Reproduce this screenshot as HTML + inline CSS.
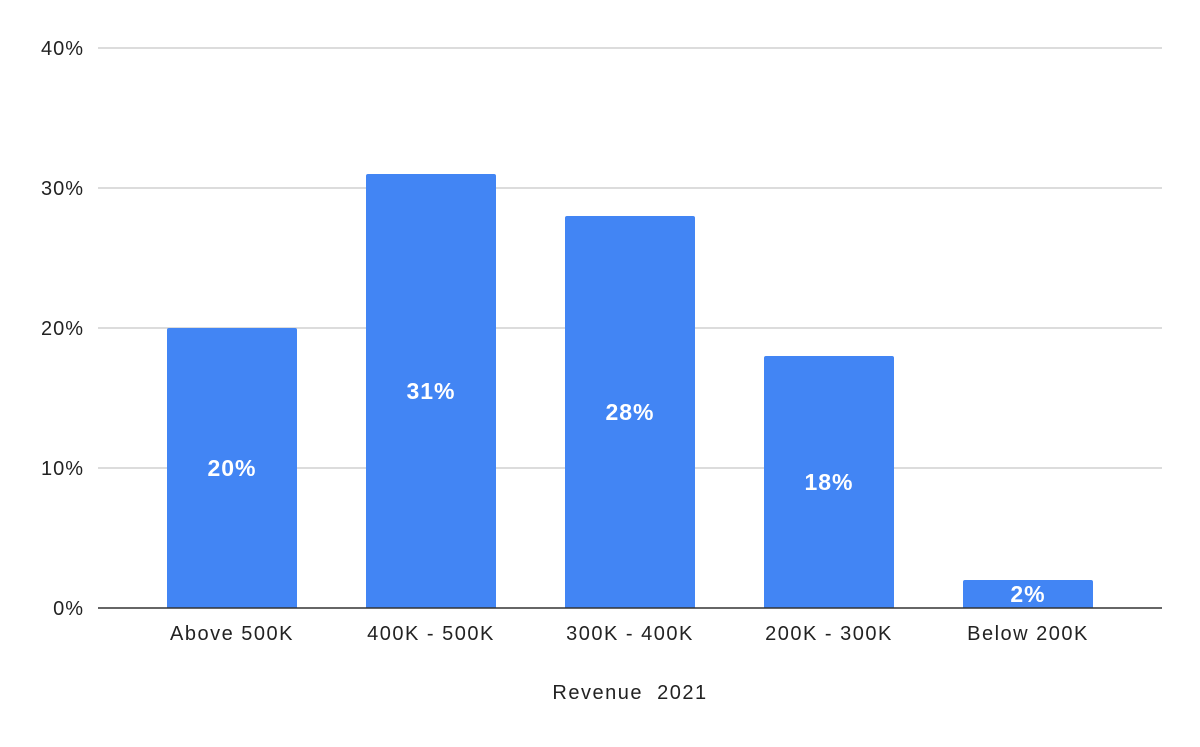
<!DOCTYPE html>
<html><head><meta charset="utf-8"><style>
body{margin:0;background:#fff;width:1200px;height:742px;overflow:hidden}
svg text{font-family:"Liberation Sans",Arial,sans-serif}
</style></head><body>
<svg id="chart" width="1200" height="742" xmlns="http://www.w3.org/2000/svg"></svg>
<script>
const categories = ["Above 500K","400K - 500K","300K - 400K","200K - 300K","Below 200K"];
const values = [20,31,28,18,2];
const yTicks = [0,10,20,30,40];
const yTickLabels = ["0%","10%","20%","30%","40%"];
const axisTitle = "Revenue\u00a0 2021";

const svg = document.getElementById('chart');
const NS = "http://www.w3.org/2000/svg";
const x0 = 98, x1 = 1162, yBase = 608, yTop = 48, yMax = 40;
const y = v => yBase - (v / yMax) * (yBase - yTop);
const xc = i => 232 + i * 199;
const barW = 130;
function mk(tag, attrs){const e=document.createElementNS(NS,tag);for(const k in attrs)e.setAttribute(k,attrs[k]);svg.appendChild(e);return e;}

yTicks.forEach((t,i)=>{
  if(t!==0){
    const g = mk('line',{x1:x0,x2:x1,y1:y(t),y2:y(t),stroke:'#c8c8c8','stroke-width':1.2});
    
    
  }
  const tl = mk('text',{x:84,y:y(t)+7,'text-anchor':'end','font-size':20,'letter-spacing':1,fill:'#222'});
  tl.textContent = yTickLabels[i];
  
  
});

values.forEach((v,i)=>{
  const top = y(v);
  const b = mk('path',{d:`M${xc(i)-barW/2},${yBase}V${top+2}Q${xc(i)-barW/2},${top} ${xc(i)-barW/2+2},${top}H${xc(i)+barW/2-2}Q${xc(i)+barW/2},${top} ${xc(i)+barW/2},${top+2}V${yBase}Z`,fill:'#4285f4'});
  
  
  const lbl = mk('text',{x:xc(i),y:(top+yBase)/2+8,'text-anchor':'middle','font-size':23,'font-weight':'bold','letter-spacing':1,fill:'#fff'});
  lbl.textContent = v + '%';
  
  
  const xl = mk('text',{x:xc(i),y:640,'text-anchor':'middle','font-size':20,'letter-spacing':1.5,fill:'#222'});
  xl.textContent = categories[i];
  
  
});

const ax = mk('line',{x1:x0,x2:x1,y1:yBase,y2:yBase,stroke:'#333','stroke-width':1.5});


const tt = mk('text',{x:630,y:699,'text-anchor':'middle','font-size':20,'letter-spacing':1.5,fill:'#222'});
tt.textContent = axisTitle;


</script>
</body></html>
